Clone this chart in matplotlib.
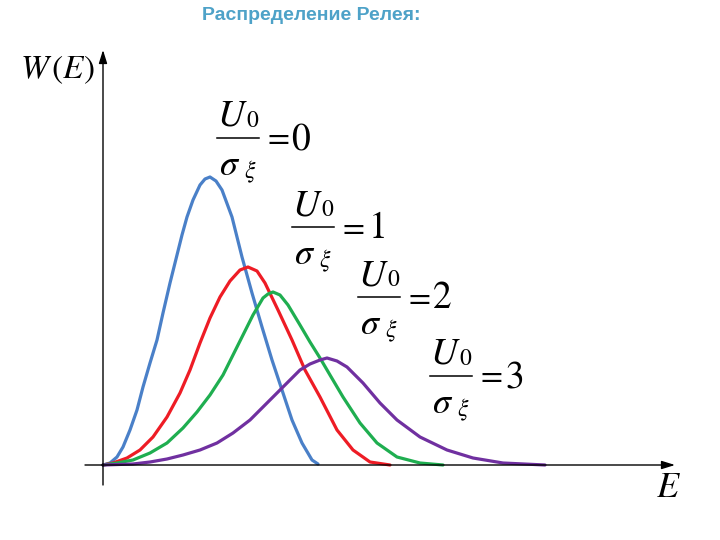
import matplotlib
matplotlib.use("Agg")
import matplotlib.pyplot as plt

plt.rcParams['mathtext.fontset'] = 'stix'

# curves (x = energy, y = W(E)), arbitrary units
blue_x = [0, 7, 14, 20, 27, 34, 40, 47, 54, 60, 67, 74, 79, 84, 90, 97, 102, 107, 113,
          119, 129, 139, 149, 159, 169, 179, 189, 199, 209, 215]
blue_y = [0, 2, 8, 18, 35, 55, 78, 102, 125, 152, 182, 210, 230, 248, 265, 280, 286,
          288, 284, 275, 248, 208, 172, 138, 105, 75, 45, 22, 5, 1]

red_x = [0, 10, 24, 37, 50, 64, 77, 87, 97, 107, 117, 127, 137, 145, 154, 162, 175,
         189, 202, 217, 234, 250, 267, 287]
red_y = [0, 2, 7, 15, 28, 48, 72, 95, 122, 147, 168, 184, 195, 198, 194, 182, 155,
         125, 95, 68, 35, 15, 3, 0]

green_x = [0, 14, 30, 47, 64, 80, 94, 107, 120, 130, 140, 150, 160, 165, 170, 177, 185,
           197, 207, 217, 227, 240, 257, 274, 294, 317, 340]
green_y = [0, 2, 5, 12, 22, 37, 53, 70, 90, 110, 130, 150, 167, 171, 173, 170, 160,
           140, 123, 107, 90, 68, 42, 22, 8, 2, 0]

purple_x = [0, 30, 47, 64, 80, 97, 114, 130, 147, 164, 180, 197, 207, 217, 224, 234,
            244, 260, 277, 294, 317, 344, 370, 400, 442]
purple_y = [0, 1, 3, 6, 10, 15, 22, 32, 45, 62, 78, 95, 101, 105, 107, 104, 98, 82,
            62, 45, 28, 15, 7, 2, 0]

ratios = ['0', '1', '2', '3']
colors = ['#4a80c8', '#ee1c25', '#1fae50', '#7030a0']

fig = plt.figure(figsize=(7.2, 5.4), dpi=100)
ax = fig.add_axes([0, 0, 1, 1])
ax.set_xlim(-103, 617)
ax.set_ylim(-75, 465)
ax.axis('off')

for xs, ys, c in zip([blue_x, red_x, green_x, purple_x],
                     [blue_y, red_y, green_y, purple_y], colors):
    ax.plot(xs, ys, color=c, lw=2.3, solid_capstyle='round',
            solid_joinstyle='round', zorder=3)

# axes with arrows
arrow = dict(arrowstyle='-|>,head_length=0.8,head_width=0.25', color='black', lw=1.0,
             shrinkA=0, shrinkB=0)
ax.annotate('', xy=(572, 0), xytext=(-18, 0), arrowprops=arrow)
ax.annotate('', xy=(0, 415), xytext=(0, -20), arrowprops=arrow)

ax.text(-83, 395, r'$W\,(E)$', fontsize=24, ha='left', va='center')
ax.text(565, -22, r'$E$', fontsize=26, ha='center', va='center')

# labels U0/sigma_xi = n, drawn like the equation-editor fractions
label_pos = [(114, 327), (189, 238), (255, 168), (327, 89)]
for r, (bx, by) in zip(ratios, label_pos):
    kw = dict(ha='center', va='center', color='black')
    ax.text(bx + 15, by + 22, r'$U$', fontsize=27, **kw)
    ax.text(bx + 36, by + 18, r'$\mathrm{0}$', fontsize=17, **kw)
    ax.plot([bx, bx + 42], [by, by], color='black', lw=1.1)
    ax.text(bx + 13, by - 27, r'$\sigma$', fontsize=26, **kw)
    ax.text(bx + 33, by - 34, r'$\xi$', fontsize=17, **kw)
    ax.text(bx + 59, by, r'$=$', fontsize=23, **kw)
    ax.text(bx + 84, by - 1, r'$\mathrm{%s}$' % r, fontsize=27, **kw)

fig.text(311 / 720, 1 - 16 / 540, 'Распределение Релея:', fontsize=14,
         fontweight='bold', color='#4ea2c8', family='Liberation Sans',
         ha='center', va='center')

fig.savefig('out.png', dpi=100)
